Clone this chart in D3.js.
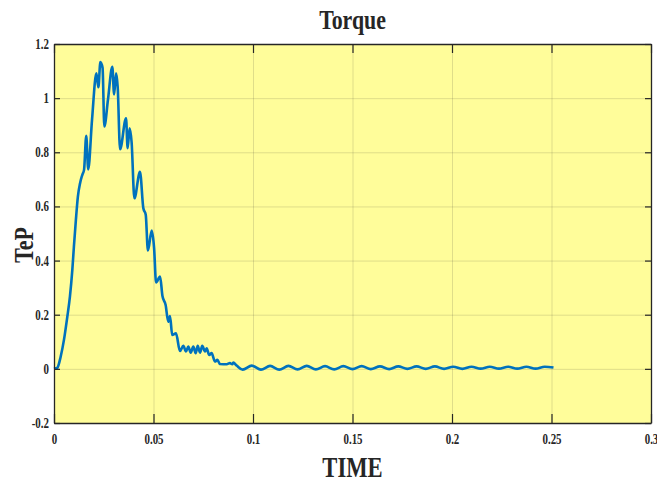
<!DOCTYPE html>
<html>
<head>
<meta charset="utf-8">
<script src="https://cdn.jsdelivr.net/npm/d3@7"></script>
<style>
  body { margin: 0; background: #fff; }
  text { font-family: "Liberation Serif", "Times New Roman", serif; font-weight: bold; fill: #262626; }
</style>
</head>
<body>
<script>
//---------------------------------- data ----------------------------------
const time = [0, 0.001, 0.00168, 0.00335, 0.005, 0.0067, 0.008, 0.0092, 0.01, 0.011, 0.012, 0.0131, 0.0142, 0.0151,
  0.0162, 0.0172, 0.0191, 0.0213, 0.0223, 0.0233, 0.0244, 0.0253, 0.0271, 0.0293, 0.0302, 0.0312, 0.032,
  0.0332, 0.0362, 0.037, 0.038, 0.039, 0.0404, 0.0432, 0.0449, 0.0461, 0.0472, 0.0491, 0.0503, 0.0513,
  0.0533, 0.0545, 0.0561, 0.0574, 0.0583, 0.0594, 0.0613, 0.0633, 0.065, 0.0663, 0.0675, 0.0687, 0.07,
  0.0712, 0.0722, 0.0734, 0.0745, 0.0759, 0.0767, 0.078, 0.0792, 0.0809, 0.0821, 0.0834, 0.0868, 0.0884,
  0.0896, 0.0901, 0.0918,
  0.0948, 0.0994, 0.1040, 0.1086, 0.1132, 0.1178, 0.1224, 0.1270, 0.1316, 0.1362, 0.1408, 0.1454,
  0.1500, 0.1546, 0.1592, 0.1638, 0.1684, 0.1730, 0.1776, 0.1822, 0.1868, 0.1914, 0.1960, 0.2006,
  0.2052, 0.2098, 0.2144, 0.2190, 0.2236, 0.2282, 0.2328, 0.2374, 0.2420, 0.2466, 0.2510];

const torque = [0, 0.002, 0.004, 0.045, 0.107, 0.193, 0.267, 0.365, 0.451, 0.55, 0.636, 0.686, 0.716, 0.735,
  0.861, 0.737, 0.919, 1.092, 1.040, 1.133, 1.112, 0.895, 0.993, 1.116, 1.014, 1.092, 1.042,
  0.811, 0.926, 0.815, 0.889, 0.837, 0.630, 0.728, 0.593, 0.569, 0.437, 0.511, 0.446, 0.319,
  0.341, 0.269, 0.236, 0.174, 0.195, 0.125, 0.131, 0.066, 0.085, 0.064, 0.082, 0.060, 0.082,
  0.058, 0.085, 0.060, 0.085, 0.064, 0.076, 0.051, 0.058, 0.027, 0.033, 0.018, 0.017, 0.021,
  0.017, 0.023, 0.012,
  -0.003, 0.012, -0.003, 0.011, -0.003, 0.011, -0.002, 0.011, -0.002, 0.010, -0.002, 0.010,
  -0.001, 0.010, -0.001, 0.009, -0.001, 0.009, 0, 0.009, 0, 0.009, 0, 0.008,
  0, 0.008, 0.001, 0.008, 0.001, 0.008, 0.001, 0.008, 0.001, 0.008, 0.005];

const xTicks = [0, 0.05, 0.1, 0.15, 0.2, 0.25, 0.3];
const xTickLabels = ["0", "0.05", "0.1", "0.15", "0.2", "0.25", "0.3"];
const yTicks = [-0.2, 0, 0.2, 0.4, 0.6, 0.8, 1, 1.2];
const yTickLabels = ["-0.2", "0", "0.2", "0.4", "0.6", "0.8", "1", "1.2"];

//---------------------------------- layout ----------------------------------
const width = 657, height = 484;
const plotLeft = 54, plotRight = 651, plotTop = 44, plotBottom = 423;
const squeeze = 0.78;   // the type in the figure is narrow

const xScale = d3.scaleLinear().domain([0, 0.3]).range([plotLeft, plotRight]);
const yScale = d3.scaleLinear().domain([-0.2, 1.2]).range([plotBottom, plotTop]);

const svg = d3.select("body").append("svg")
  .attr("width", width)
  .attr("height", height);

// plot background
svg.append("rect")
  .attr("x", plotLeft).attr("y", plotTop)
  .attr("width", plotRight - plotLeft).attr("height", plotBottom - plotTop)
  .attr("fill", "#fffd9a");

//---------------------------------- grid ----------------------------------
svg.append("g")
  .attr("transform", `translate(0,${plotBottom})`)
  .call(d3.axisBottom(xScale).tickValues(xTicks).tickSize(-(plotBottom - plotTop)).tickFormat(""))
  .call(g => g.select(".domain").remove())
  .selectAll("line").attr("stroke", "#262626").attr("stroke-opacity", 0.15);

svg.append("g")
  .attr("transform", `translate(${plotLeft},0)`)
  .call(d3.axisLeft(yScale).tickValues(yTicks).tickSize(-(plotRight - plotLeft)).tickFormat(""))
  .call(g => g.select(".domain").remove())
  .selectAll("line").attr("stroke", "#262626").attr("stroke-opacity", 0.15);

//---------------------------------- line ----------------------------------
const line = d3.line()
  .x((d, i) => xScale(time[i]))
  .y(d => yScale(d))
  .curve(d3.curveMonotoneX);

svg.append("path")
  .datum(torque)
  .attr("d", line)
  .attr("fill", "none")
  .attr("stroke", "#0072bd")
  .attr("stroke-width", 2.6)
  .attr("stroke-linejoin", "round");

//---------------------------------- axes ----------------------------------
const axisStyle = g => {
  g.select(".domain").attr("stroke", "#262626").attr("stroke-width", 1.3);
  g.selectAll(".tick line").attr("stroke", "#262626").attr("stroke-width", 1.2);
};

const xAxis = svg.append("g")
  .attr("transform", `translate(0,${plotBottom})`)
  .call(d3.axisBottom(xScale).tickValues(xTicks).tickSizeOuter(0).tickSizeInner(-9).tickPadding(11)
    .tickFormat((d, i) => xTickLabels[i]))
  .call(axisStyle);
xAxis.selectAll("text")
  .attr("font-size", 14).attr("font-family", null)
  .attr("transform", `scale(${squeeze},1)`);

svg.append("g")
  .attr("transform", `translate(0,${plotTop})`)
  .call(d3.axisTop(xScale).tickValues(xTicks).tickSizeOuter(0).tickSizeInner(-9).tickFormat(""))
  .call(axisStyle);

const yAxis = svg.append("g")
  .attr("transform", `translate(${plotLeft},0)`)
  .call(d3.axisLeft(yScale).tickValues(yTicks).tickSizeOuter(0).tickSizeInner(-6).tickPadding(5)
    .tickFormat((d, i) => yTickLabels[i]))
  .call(axisStyle);
yAxis.selectAll("text")
  .attr("font-size", 14).attr("font-family", null)
  .attr("x", -5 / squeeze)
  .attr("transform", `scale(${squeeze},1)`);

svg.append("g")
  .attr("transform", `translate(${plotRight},0)`)
  .call(d3.axisRight(yScale).tickValues(yTicks).tickSizeOuter(0).tickSizeInner(-6).tickFormat(""))
  .call(axisStyle);

//---------------------------------- labels ----------------------------------
svg.append("g")
  .attr("transform", `translate(${(plotLeft + plotRight) / 2},29) scale(${squeeze},1)`)
  .append("text")
  .attr("text-anchor", "middle")
  .attr("font-size", 28)
  .attr("fill", "#000")
  .text("Torque");

svg.append("g")
  .attr("transform", `translate(${(plotLeft + plotRight) / 2},477) scale(${squeeze},1)`)
  .append("text")
  .attr("text-anchor", "middle")
  .attr("font-size", 29)
  .text("TIME");

svg.append("g")
  .attr("transform", `translate(33,245) rotate(-90) scale(${squeeze},1)`)
  .append("text")
  .attr("text-anchor", "middle")
  .attr("font-size", 28)
  .text("TeP");
</script>
</body>
</html>
